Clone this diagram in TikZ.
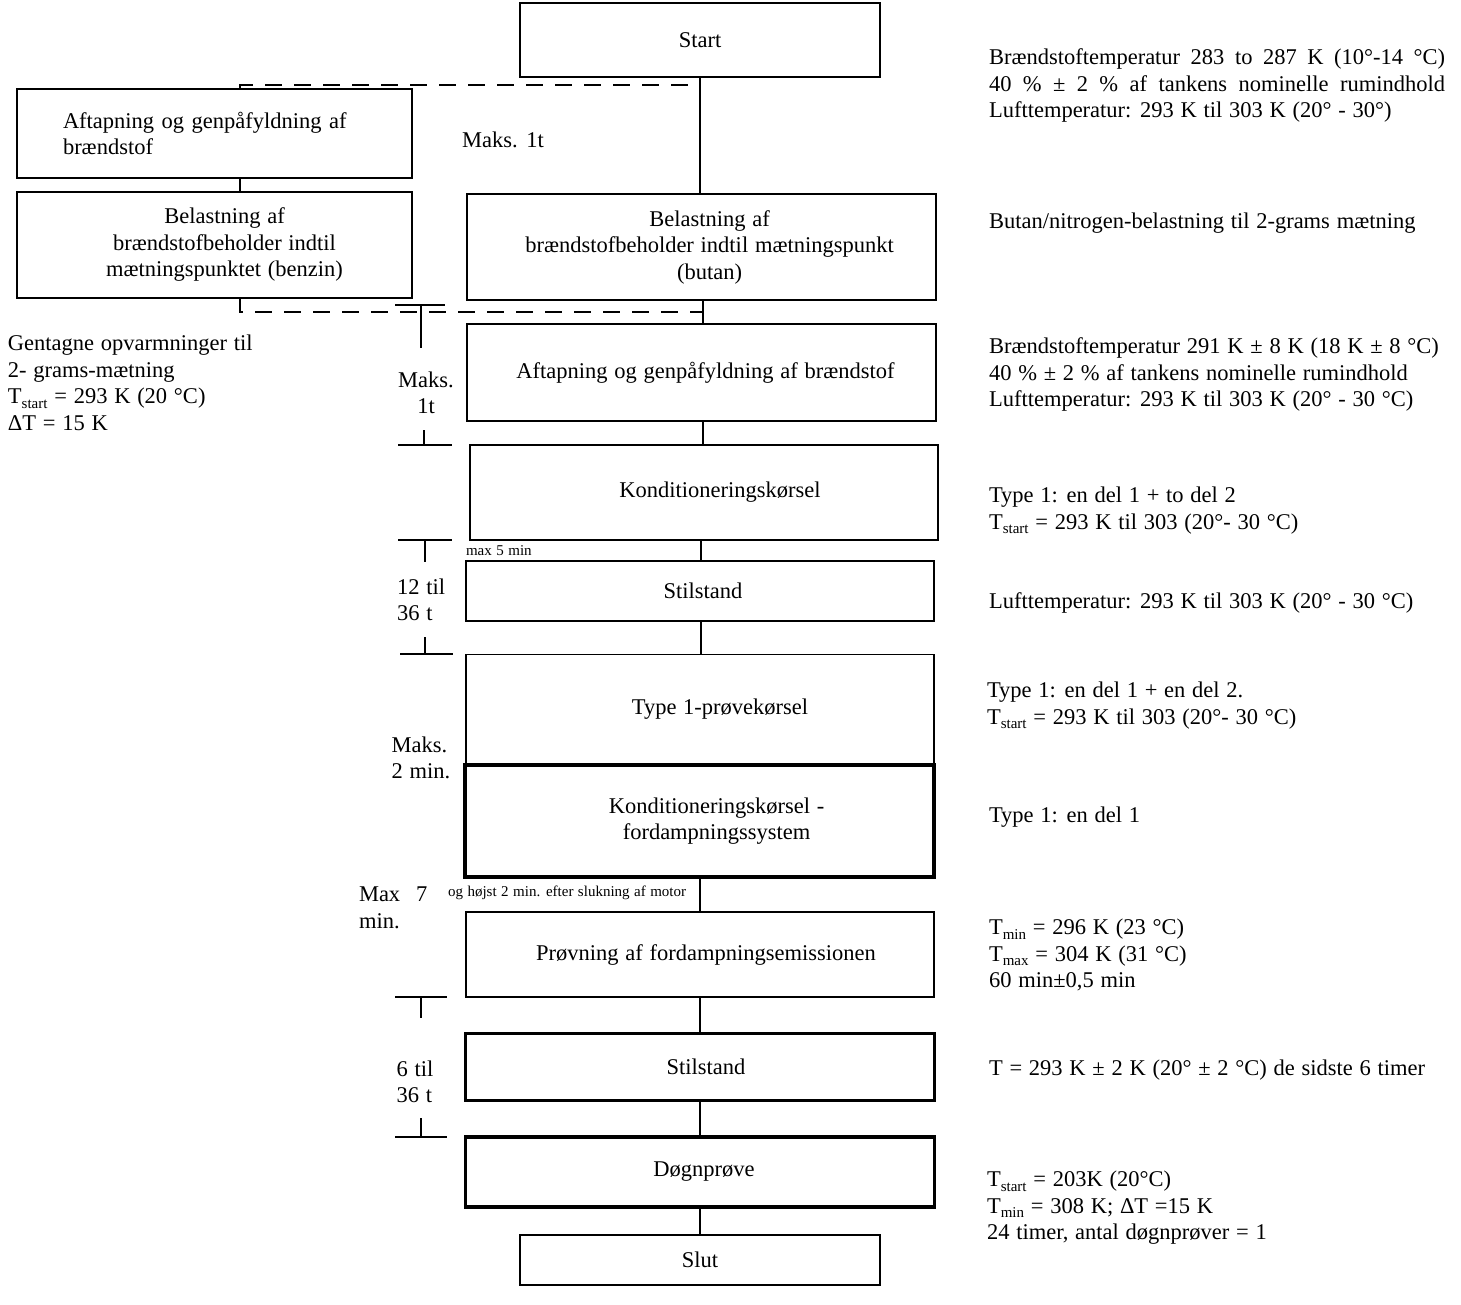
\documentclass[tikz,border=0pt]{standalone}
\usepackage{fontspec}
\setmainfont{Liberation Serif}
\newcommand{\lowsub}[1]{\raisebox{-0.45ex}{\fontsize{15}{15}\selectfont #1}}
\newcommand{\mainfnt}{\fontsize{22.5}{26.5}\selectfont\spaceskip=0.3em plus 0.2em minus 0.08em\relax}
\newcommand{\smallfnt}{\fontsize{15}{17}\selectfont\spaceskip=0.3em plus 0.2em minus 0.08em\relax}
\begin{document}
\begin{tikzpicture}[x=1pt,y=-1pt,
  every node/.style={font=\mainfnt, inner sep=0pt, outer sep=0pt},
  box/.style={draw, line width=1.6pt, align=center},
  thickbox/.style={draw, line width=3.6pt, align=center},
  link/.style={line width=1.8pt},
  dashlink/.style={line width=1.8pt, dash pattern=on 17pt off 12pt},
  tick/.style={line width=1.6pt},
  note/.style={align=left, anchor=north west},
  small/.style={font=\smallfnt}
]
\useasboundingbox (0,0) rectangle (1461,1304);

% boxes
\node[box, minimum width=360, minimum height=74] (start) at (700,40) {\raisebox{-3pt}{Start}};
\node[box, align=left, text width=303, inner xsep=46, minimum height=89] (lb1) at (214.5,133.5)
  {Aftapning og genpåfyldning af\\brændstof};
\node[box, minimum width=395, minimum height=106] (lb2) at (214.5,245)
  {\hspace*{20pt}Belastning af\\\hspace*{20pt}brændstofbeholder indtil\\\hspace*{20pt}mætningspunktet (benzin)};
\node[box, minimum width=469, minimum height=106] (butan) at (701.5,247)
  {\hspace*{16pt}Belastning af\\\hspace*{16pt}brændstofbeholder indtil mætningspunkt\\\hspace*{16pt}(butan)};
\node[box, minimum width=469, minimum height=97] (aft) at (701.5,372.5)
  {\hspace*{8pt}Aftapning og genpåfyldning af brændstof};
\node[box, minimum width=468, minimum height=95] (kond) at (704,492.5)
  {\hspace*{32pt}Konditioneringskørsel};
\node[box, minimum width=468, minimum height=60] (stil1) at (700,591) {\hspace*{6pt}Stilstand};
\node[box, minimum width=468, minimum height=110] (type1) at (700,709.5)
  {\hspace*{40pt}Type 1-prøvekørsel};
\node[thickbox, minimum width=469, minimum height=112] (kondf) at (699.5,821)
  {\hspace*{34pt}Konditioneringskørsel -\\\hspace*{34pt}fordampningssystem};
\node[box, minimum width=468, minimum height=85] (prov) at (700,954.5)
  {\hspace*{12pt}\raisebox{-2pt}{Prøvning af fordampningsemissionen}};
\node[thickbox, minimum width=469, minimum height=67] (stil2) at (700,1067) {\hspace*{12pt}Stilstand};
\node[thickbox, minimum width=469, minimum height=70] (dogn) at (700,1172) {\hspace*{8pt}\raisebox{-2pt}{Døgnprøve}};
\node[box, minimum width=360, minimum height=50] (slut) at (700,1260) {Slut};

% connectors
\coordinate (xl) at (240,0);
\coordinate (x703) at (703,0);
\coordinate (x701) at (701,0);
\draw[link] (start.south) -- (start.south |- butan.north);
\draw[link] (lb1.south -| xl) -- (lb2.north -| xl);
\draw[link] (butan.south -| x703) -- (aft.north -| x703);
\draw[link] (aft.south -| x703) -- (kond.north -| x703);
\draw[link] (kond.south -| x701) -- (stil1.north -| x701);
\draw[link] (stil1.south -| x701) -- (type1.north -| x701);
\draw[link] (kondf.south -| start.south) -- (prov.north -| start.south);
\draw[link] (prov.south -| start.south) -- (stil2.north -| start.south);
\draw[link] (stil2.south -| start.south) -- (dogn.north -| start.south);
\draw[link] (dogn.south -| start.south) -- (slut.north);

% dashed loops
\coordinate (dt) at (700,85);
\coordinate (db) at (703,312);
\draw[dashlink] (lb1.north -| xl) -- (xl |- dt) -- (dt);
\draw[dashlink] (lb2.south -| xl) -- (xl |- db) -- (db);

% timing marks
\draw[tick] (395,305) -- (445,305) (421,305) -- (421,348);
\draw[tick] (424,430) -- (424,445) (398,445) -- (452,445);
\draw[tick] (398,540) -- (452,540) (425,540) -- (425,562);
\draw[tick] (425,637) -- (425,654) (400,654) -- (453,654);
\draw[tick] (395,997) -- (447,997) (421,997) -- (421,1018);
\draw[tick] (421,1118) -- (421,1137) (395,1137) -- (447,1137);

% timing labels
\node (m1) at (503,140) {Maks. 1t};
\node[align=center] (m2) at (426,393) {Maks.\\1t};
\node[align=left] (m3) at (421,600) {12 til\\36 t};
\node[align=left] (m4) at (421,758) {Maks.\\2 min.};
\node[align=left, anchor=west] (m5) at (359,908) {Max\hspace{16pt}7\\min.};
\node[align=left] (m6) at (415,1082) {6 til\\36 t};
\node[small, anchor=west] (s1) at (466,551) {max 5 min};
\node[small, anchor=west] (s2) at (448,893) {og højst 2 min. efter slukning af motor};

% left note
\node[note] (ln) at (8,335) {Gentagne opvarmninger til\\2- grams-mætning\\T\lowsub{start} = 293 K (20 °C)\\ΔT = 15 K};

% right notes
\node[note] (r1) at (989,49) {\makebox[456pt][s]{Brændstoftemperatur 283 to 287 K (10°-14 °C)}\\\makebox[456pt][s]{40 \% ± 2 \% af tankens nominelle rumindhold}\\Lufttemperatur: 293 K til 303 K (20° - 30°)};
\node[note] (r2) at (989,213) {Butan/nitrogen-belastning til 2-grams mætning};
\node[note] (r3) at (989,338) {Brændstoftemperatur 291 K ± 8 K (18 K ± 8 °C)\\40 \% ± 2 \% af tankens nominelle rumindhold\\Lufttemperatur: 293 K til 303 K (20° - 30 °C)};
\node[note] (r4) at (989,487) {Type 1: en del 1 + to del 2\\T\lowsub{start} = 293 K til 303 (20°- 30 °C)};
\node[note] (r5) at (989,593) {Lufttemperatur: 293 K til 303 K (20° - 30 °C)};
\node[note] (r6) at (987,682) {Type 1: en del 1 + en del 2.\\T\lowsub{start} = 293 K til 303 (20°- 30 °C)};
\node[note] (r7) at (989,807) {Type 1: en del 1};
\node[note] (r8) at (989,919) {T\lowsub{min} = 296 K (23 °C)\\T\lowsub{max} = 304 K (31 °C)\\60 min±0,5 min};
\node[note] (r9) at (989,1060) {T = 293 K ± 2 K (20° ± 2 °C) de sidste 6 timer};
\node[note] (r10) at (987,1171) {T\lowsub{start} = 203K (20°C)\\T\lowsub{min} = 308 K; ΔT =15 K\\24 timer, antal døgnprøver = 1};
\end{tikzpicture}
\end{document}
